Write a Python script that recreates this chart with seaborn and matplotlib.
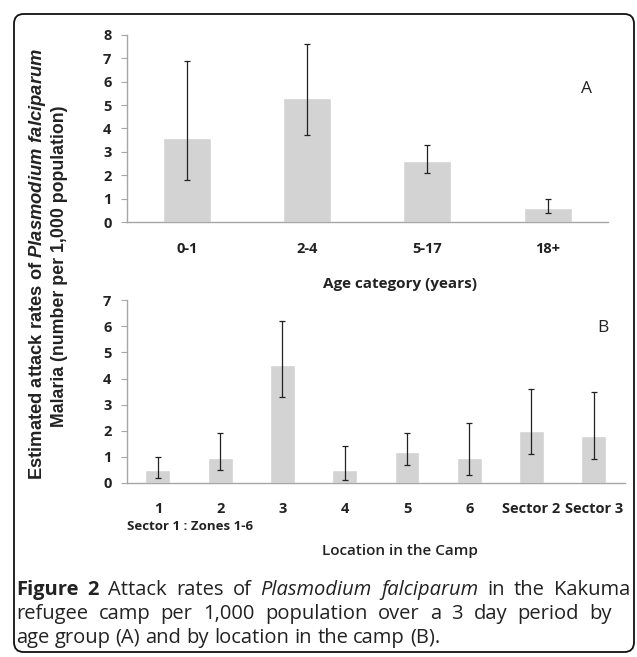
import pandas as pd
import matplotlib.pyplot as plt
import seaborn as sns
from matplotlib.patches import FancyBboxPatch

# Panel A data: attack rate by age group
age_groups = ["0-1", "2-4", "5-17", "18+"]
age_rate = [3.6, 5.3, 2.6, 0.62]
age_low = [1.8, 3.7, 2.1, 0.4]
age_high = [6.9, 7.6, 3.3, 1.0]

# Panel B data: attack rate by location
locations = ["1", "2", "3", "4", "5", "6", "Sector 2", "Sector 3"]
loc_rate = [0.48, 0.97, 4.5, 0.5, 1.17, 0.95, 2.0, 1.8]
loc_low = [0.2, 0.5, 3.3, 0.1, 0.7, 0.3, 1.1, 0.9]
loc_high = [1.0, 1.9, 6.2, 1.4, 1.9, 2.3, 3.6, 3.5]

sns.set_style("white")
plt.rcParams['font.family'] = ['Open Sans', 'DejaVu Sans']
plt.rcParams['mathtext.fontset'] = 'custom'
plt.rcParams['mathtext.bfit'] = 'Liberation Sans:italic:bold'

fig = plt.figure(figsize=(6.37, 6.57), dpi=100)
W, H = 637, 657

bar_color = "#d3d3d3"
axis_color = "#a6a6a6"
text_color = "#222222"


def panel(ax, cats, vals, low, high, ymax, letter, letter_y):
    df = pd.DataFrame({"cat": cats, "val": vals})
    sns.barplot(data=df, x="cat", y="val", color=bar_color, width=0.4,
                saturation=1, ax=ax, errorbar=None)
    err = [[v - l for v, l in zip(vals, low)], [h - v for v, h in zip(vals, high)]]
    ax.errorbar(range(len(cats)), vals, yerr=err, fmt="none", ecolor=text_color,
                elinewidth=0.9, capsize=2.5, capthick=0.9)
    ax.set_xlim(-0.5, len(cats) - 0.5)
    ax.set_ylim(0, ymax)
    ax.set_yticks(range(ymax + 1))
    ax.set_xlabel("")
    ax.set_ylabel("")
    sns.despine(ax=ax)
    for s in ["left", "bottom"]:
        ax.spines[s].set_color(axis_color)
        ax.spines[s].set_linewidth(1.0)
    # ticks sit between categories, as in the original
    ax.set_xticks([i - 0.5 for i in range(len(cats) + 1)], minor=True)
    ax.tick_params(axis="x", which="major", length=0, pad=14)
    ax.tick_params(axis="x", which="minor", length=5, color=axis_color, direction="out")
    ax.tick_params(axis="y", length=4, pad=7, color=axis_color, direction="out", left=True)
    for lab in ax.get_xticklabels() + ax.get_yticklabels():
        lab.set_fontsize(10.5)
        lab.set_fontweight("bold")
        lab.set_color(text_color)
    ax.text(0.955, letter_y, letter, transform=ax.transAxes, fontsize=12.5,
            ha="center", va="center", color=text_color)


axA = fig.add_axes([0.199, 0.662, 0.755, 0.285])
panel(axA, age_groups, age_rate, age_low, age_high, 8, "A", 0.71)
axB = fig.add_axes([0.199, 0.265, 0.782, 0.278])
panel(axB, locations, loc_rate, loc_low, loc_high, 7, "B", 0.85)

fig.text(0.628, 1 - 284 / H, "Age category (years)", ha="center", va="center",
         fontsize=11, fontweight="bold", color=text_color)
fig.text(0.298, 1 - 527 / H, "Sector 1 : Zones 1-6", ha="center", va="center",
         fontsize=9.5, fontweight="bold", color=text_color)
fig.text(0.628, 1 - 551 / H, "Location in the Camp", ha="center", va="center",
         fontsize=11, fontweight="semibold", color=text_color)

# two-line y label
ylab_kw = dict(rotation=90, ha="center", va="center", fontweight="bold",
               family=["Liberation Sans", "DejaVu Sans"], color=text_color)
fig.text(38 / W, 1 - 264 / H,
         r"Estimated attack rates of $\mathbfit{Plasmodium\ falciparum}$",
         fontsize=13.2, **ylab_kw)
fig.text(60 / W, 1 - 266 / H, "Malaria (number per 1,000 population)",
         fontsize=12.8, **ylab_kw)

# caption, first two lines justified like the journal layout
renderer = fig.canvas.get_renderer()
cap_size = 14.5


def caption_line(y, words, justify=True, x0=16, x1=630):
    items = []
    for word, weight, style in words:
        t = fig.text(x0 / W, 1 - y / H, word, fontsize=cap_size, fontweight=weight,
                     fontstyle=style, color=text_color, ha="left", va="center")
        items.append((t, t.get_window_extent(renderer).width))
    total = sum(w for _, w in items)
    space = (x1 - x0 - total) / (len(items) - 1) if justify else cap_size * 0.36
    x = x0
    for t, w in items:
        t.set_x(x / W)
        x += w + space


line1 = [("Figure", "bold", "normal"), ("2", "bold", "normal"),
         ("Attack", "normal", "normal"), ("rates", "normal", "normal"),
         ("of", "normal", "normal"), ("Plasmodium", "normal", "italic"),
         ("falciparum", "normal", "italic"), ("in", "normal", "normal"),
         ("the", "normal", "normal"), ("Kakuma", "normal", "normal")]
line2 = [(w, "normal", "normal") for w in
         "refugee camp per 1,000 population over a 3 day period by".split()]
line3 = [(w, "normal", "normal") for w in
         "age group (A) and by location in the camp (B).".split()]
caption_line(590, line1, x1=630)
caption_line(614, line2, x1=612)
caption_line(638, line3, justify=False)

# rounded frame around the figure
frame = FancyBboxPatch((14 / W, 1 - 652 / H), 620 / W, 638 / H,
                       boxstyle="round,pad=0,rounding_size=0.015",
                       transform=fig.transFigure, fill=False, edgecolor="#111111",
                       linewidth=1.3)
fig.patches.append(frame)

fig.savefig("out.png", dpi=100)
